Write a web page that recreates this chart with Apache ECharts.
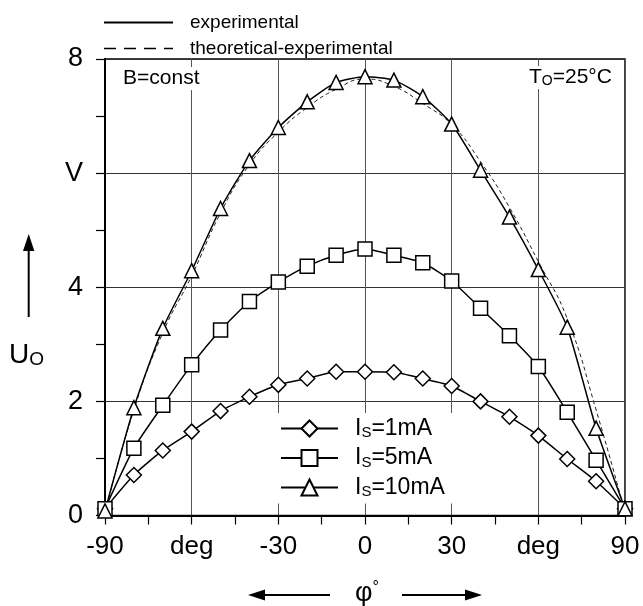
<!DOCTYPE html>
<html>
<head>
<meta charset="utf-8">
<script src="https://cdn.jsdelivr.net/npm/echarts@6/dist/echarts.min.js"></script>
<style>html,body{margin:0;padding:0;background:#fff}#c{width:643px;height:606px}</style>
</head>
<body>
<div id="c"></div>
<script>
// ---- data ----
const phi = [-90,-80,-70,-60,-50,-40,-30,-20,-10,0,10,20,30,40,50,60,70,80,90];
const uIs1  = [0.12,0.71,1.14,1.47,1.83,2.08,2.29,2.40,2.52,2.52,2.51,2.40,2.27,2.00,1.73,1.40,0.99,0.60,0.12];
const uIs5  = [0.12,1.18,1.93,2.64,3.25,3.75,4.09,4.37,4.56,4.67,4.56,4.43,4.11,3.63,3.15,2.61,1.81,0.97,0.12];
const uIs10 = [0.08,1.89,3.28,4.29,5.38,6.22,6.80,7.25,7.59,7.69,7.63,7.34,6.86,6.05,5.23,4.31,3.30,1.53,0.12];
const uTheory = [0.05,1.85,3.2,4.2,5.3,6.15,6.72,7.15,7.47,7.65,7.52,7.22,6.85,6.2,5.4,4.45,3.45,1.85,0.05];
const xTickLabels = {'-90':'-90','-60':'deg','-30':'-30','0':'0','30':'30','60':'deg','90':'90'};
const yTickLabels = {'0':'0','2':'2','4':'4','6':'V','8':'8'};
const seriesNames = ['IS=1mA','IS=5mA','IS=10mA'];
const seriesSub = {'IS=1mA':'=1mA','IS=5mA':'=5mA','IS=10mA':'=10mA'};

const FF = 'Liberation Sans, Arial, sans-serif';
const pairs = arr => phi.map((p,i)=>[p,arr[i]]);

const chart = echarts.init(document.getElementById('c'), null, {renderer:'canvas'});

function markerSeries(name, data, symbol, size){
  return {
    name, type:'line', data: pairs(data), symbol, symbolSize:size, smooth:0.2,
    lineStyle:{color:'#000', width:1.5},
    itemStyle:{color:'#fff', borderColor:'#000', borderWidth:1.5},
    z:5
  };
}

const dashIcon = 'path://M0 0H12V1.5H0Z M20 0H32V1.5H20Z M40 0H52V1.5H40Z M60 0H69V1.5H60Z';

const option = {
  backgroundColor:'#fff',
  animation:false,
  grid:{left:105, right:18, top:59, bottom:90.5, show:true, borderColor:'#000', borderWidth:1.5, backgroundColor:'transparent'},
  xAxis:{
    type:'value', min:-90, max:90, interval:30,
    axisLine:{show:true, onZero:false, lineStyle:{color:'#000', width:2}},
    axisTick:{show:true, inside:false, length:9, lineStyle:{color:'#000', width:1.2}},
    minorTick:{show:true, splitNumber:2, length:9, lineStyle:{color:'#000', width:1.2}},
    splitLine:{show:true, lineStyle:{color:'#555', width:1}},
    axisLabel:{margin:18, fontSize:26, fontFamily:FF, color:'#000', formatter:v=>xTickLabels[String(v)] ?? ''}
  },
  yAxis:{
    type:'value', min:0, max:8, interval:2,
    axisLine:{show:true, onZero:false, lineStyle:{color:'#000', width:2}},
    axisTick:{show:true, inside:false, length:9, lineStyle:{color:'#000', width:1.2}},
    minorTick:{show:true, splitNumber:2, length:9, lineStyle:{color:'#000', width:1.2}},
    splitLine:{show:true, lineStyle:{color:'#333', width:1}},
    axisLabel:{margin:22, fontSize:27, fontFamily:FF, color:'#000', formatter:v=>yTickLabels[String(v)] ?? ''}
  },
  legend:[
    {
      data:[
        {name:'experimental', itemStyle:{opacity:0}, lineStyle:{type:'solid', width:2, color:'#000'}},
        {name:'theoretical-experimental', icon:dashIcon, itemStyle:{color:'#000', opacity:1, borderWidth:0}}
      ],
      orient:'vertical', left:98, top:8, itemWidth:69, itemHeight:14, itemGap:7,
      textStyle:{fontSize:19, fontFamily:FF, color:'#000', padding:[0,0,0,12]},
      selectedMode:false
    },
    {
      data:seriesNames,
      orient:'vertical', left:272, top:413, itemWidth:57, itemHeight:20, itemGap:6,
      backgroundColor:'#fff', padding:[4,8,4,8], z:4,
      textStyle:{fontSize:23, fontFamily:FF, color:'#000', padding:[0,0,0,12],
        rich:{i:{fontSize:23, fontFamily:FF, color:'#000'}, s:{fontSize:15, fontFamily:FF, color:'#000', padding:[9,0,0,0]}}},
      formatter:name=>'{i|I}{s|S}{i|'+seriesSub[name]+'}',
      selectedMode:false
    }
  ],
  series:[
    {name:'theoretical-experimental', type:'line', data:pairs(uTheory), symbol:'none', smooth:0.5,
      itemStyle:{color:'#222'}, lineStyle:{color:'#222', width:1, type:[4,3]}, z:3},
    {name:'experimental', type:'line', data:[], symbol:'none', itemStyle:{color:'#000'}, lineStyle:{color:'#000', width:2}},
    markerSeries('IS=1mA', uIs1, 'diamond', 15),
    markerSeries('IS=5mA', uIs5, 'rect', 14),
    markerSeries('IS=10mA', uIs10, 'triangle', 14)
  ],
  graphic:[
    {type:'text', left:121, top:67, z:10, style:{text:'B=const', fontSize:21, fontFamily:FF, fill:'#000', backgroundColor:'#fff', padding:[1,2]}},
    {type:'text', left:527, top:66, z:10, style:{text:'{t|T}{s|O}{t|=25°C}', fill:'#000', backgroundColor:'#fff', padding:[1,2],
      rich:{t:{fontSize:21, fontFamily:FF, fill:'#000'}, s:{fontSize:14, fontFamily:FF, fill:'#000', padding:[7,0,0,0]}}}},
    {type:'text', left:9, top:341, z:10, style:{text:'{u|U}{s|O}', fill:'#000',
      rich:{u:{fontSize:28, fontFamily:FF, fill:'#000'}, s:{fontSize:19, fontFamily:FF, fill:'#000', padding:[9,0,0,0]}}}},
    {type:'line', z:10, shape:{x1:28.7, y1:317, x2:28.7, y2:248}, style:{stroke:'#000', lineWidth:2}},
    {type:'polygon', z:10, shape:{points:[[28.7,234],[23,251],[34.4,251]]}, style:{fill:'#000'}},
    {type:'text', left:355, top:580, z:10, style:{text:'{p|φ}{d|°}', fill:'#000',
      rich:{p:{fontSize:27, fontFamily:FF, fill:'#000'}, d:{fontSize:16, fontFamily:FF, fill:'#000', padding:[0,0,12,0]}}}},
    {type:'line', z:10, shape:{x1:262, y1:595, x2:330, y2:595}, style:{stroke:'#000', lineWidth:2}},
    {type:'polygon', z:10, shape:{points:[[248,595],[265,589.5],[265,600.5]]}, style:{fill:'#000'}},
    {type:'line', z:10, shape:{x1:402, y1:595, x2:468, y2:595}, style:{stroke:'#000', lineWidth:2}},
    {type:'polygon', z:10, shape:{points:[[482,595],[465,589.5],[465,600.5]]}, style:{fill:'#000'}}
  ]
};
chart.setOption(option);
</script>
</body>
</html>
